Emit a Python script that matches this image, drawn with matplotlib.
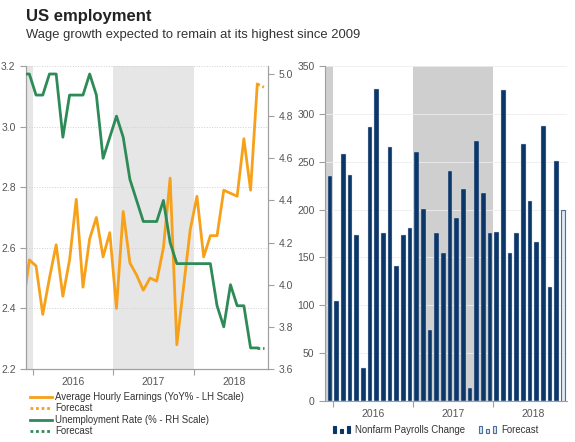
import matplotlib
matplotlib.use("Agg")

import numpy as np
import matplotlib.pyplot as plt
from matplotlib.lines import Line2D
from matplotlib.patches import Rectangle
from matplotlib.legend_handler import HandlerBase

plt.rcParams["font.family"] = ["Liberation Sans", "DejaVu Sans"]

# month index: 0 = Dec 2015, -1 = Nov 2015 (only partly visible)
line_months = np.arange(-1, 35)
bar_months = np.arange(0, 35)
forecast_month = 35

earnings = [2.40, 2.56, 2.54, 2.38, 2.50, 2.61, 2.44, 2.56, 2.76, 2.47, 2.63, 2.70, 2.57,
            2.65, 2.40, 2.72, 2.55, 2.51, 2.46, 2.50, 2.49, 2.60, 2.83, 2.28, 2.47,
            2.66, 2.77, 2.57, 2.64, 2.64, 2.79, 2.78, 2.77, 2.96, 2.79, 3.14]
earnings_fc = 3.13

unemployment = [5.0, 5.0, 4.9, 4.9, 5.0, 5.0, 4.7, 4.9, 4.9, 4.9, 5.0, 4.9, 4.6,
                4.7, 4.8, 4.7, 4.5, 4.4, 4.3, 4.3, 4.3, 4.4, 4.2, 4.1, 4.1,
                4.1, 4.1, 4.1, 4.1, 3.9, 3.8, 4.0, 3.9, 3.9, 3.7, 3.7]
unemployment_fc = 3.7

payrolls = [235, 104, 258, 236, 173, 34, 286, 326, 176, 265, 141, 173,
            181, 260, 201, 74, 176, 155, 240, 191, 222, 14, 272, 217,
            176, 177, 325, 155, 176, 269, 209, 166, 287, 119, 251]
payrolls_fc = 200

years = ["2016", "2017", "2018"]
year_centers = [6.5, 18.5, 30.5]
year_edges = [0.5, 12.5, 24.5]
shaded = [(-1, 0.5), (12.5, 24.5)]

ORANGE = "#f7a11a"
GREEN = "#2e8b57"
NAVY = "#0b3668"
AXC = "#a0a0a0"
TXT = "#555555"

fig = plt.figure(figsize=(5.75, 4.42), dpi=100)

fig.text(0.045, 0.953, "US employment", fontsize=12, fontweight="bold",
         color="#222222", va="baseline")
fig.text(0.045, 0.915, "Wage growth expected to remain at its highest since 2009",
         fontsize=9.4, color="#333333", va="baseline")


def style_x(ax):
    ax.set_xticks(year_edges)
    ax.set_xticklabels([])
    ax.set_xticks(year_centers, years, minor=True)
    ax.tick_params(axis="x", which="major", length=4, color=AXC)
    ax.tick_params(axis="x", which="minor", length=0, labelsize=7.5,
                   labelcolor=TXT, pad=6)
    ax.spines["top"].set_visible(False)
    for s in ax.spines.values():
        s.set_color(AXC)


# ---- left chart ----
ax1 = fig.add_axes([0.0452, 0.1652, 0.4209, 0.6855])
for a, b in shaded:
    ax1.axvspan(a, b, color="#e6e6e6", lw=0, zorder=0)
ax1.set_xlim(-0.5, 35.6)
ax1.set_ylim(2.2, 3.2)
ax1.set_yticks([2.2, 2.4, 2.6, 2.8, 3.0, 3.2])
ax1.yaxis.set_major_formatter(plt.FormatStrFormatter("%.1f"))
ax1.grid(axis="y", color="#d0d0d0", ls=":", lw=0.7)
ax1.tick_params(axis="y", length=4, color=AXC, labelsize=7.5, labelcolor=TXT)
style_x(ax1)
ax1.plot(line_months, earnings, color=ORANGE, lw=2, zorder=3)
ax1.plot([line_months[-1], forecast_month], [earnings[-1], earnings_fc],
         color=ORANGE, lw=2, ls=(0, (1, 1)), zorder=3)

ax2 = ax1.twinx()
ax2.set_ylim(3.6, 5.038)
ax2.set_yticks([3.6, 3.8, 4.0, 4.2, 4.4, 4.6, 4.8, 5.0])
ax2.yaxis.set_major_formatter(plt.FormatStrFormatter("%.1f"))
ax2.tick_params(axis="y", length=4, color=AXC, labelsize=7.5, labelcolor=TXT)
ax2.spines["top"].set_visible(False)
for s in ax2.spines.values():
    s.set_color(AXC)
ax2.plot(line_months, unemployment, color=GREEN, lw=2, zorder=3)
ax2.plot([line_months[-1], forecast_month], [unemployment[-1], unemployment_fc],
         color=GREEN, lw=2, ls=(0, (1, 1)), zorder=3)

left_handles = [
    Line2D([], [], color=ORANGE, lw=2),
    Line2D([], [], color=ORANGE, lw=2, ls=(0, (1, 1))),
    Line2D([], [], color=GREEN, lw=2),
    Line2D([], [], color=GREEN, lw=2, ls=(0, (1, 1))),
]
left_labels = ["Average Hourly Earnings (YoY% - LH Scale)", "Forecast",
               "Unemployment Rate (% - RH Scale)", "Forecast"]
fig.legend(left_handles, left_labels, loc="upper left",
           bbox_to_anchor=(0.052, 0.113), frameon=False, fontsize=6.9,
           handlelength=2.3, handletextpad=0.3, labelspacing=0.15,
           borderpad=0, borderaxespad=0, labelcolor="#333333")

# ---- right chart ----
ax3 = fig.add_axes([0.5652, 0.0928, 0.4209, 0.7579])
for a, b in shaded:
    ax3.axvspan(a, b, color="#cfcfcf", lw=0, zorder=0)
ax3.set_xlim(-0.75, 35.55)
ax3.set_ylim(0, 350)
ax3.set_yticks(range(0, 351, 50))
ax3.grid(axis="y", color="#eeeeee", lw=0.6)
ax3.set_axisbelow(True)
ax3.tick_params(axis="y", length=4, color=AXC, labelsize=7.5, labelcolor=TXT)
style_x(ax3)
ax3.spines["right"].set_visible(False)
ax3.bar(bar_months, payrolls, width=0.72, color=NAVY, edgecolor="#c8d4e2",
        lw=0.3, zorder=3)
ax3.bar([forecast_month], [payrolls_fc], width=0.6, color="#dfe8f3",
        edgecolor="#4a6f9c", lw=0.8, zorder=3)


class ThreeBars(HandlerBase):
    def __init__(self, face, edge):
        super().__init__()
        self.face = face
        self.edge = edge

    def create_artists(self, legend, orig_handle, xdescent, ydescent,
                       width, height, fontsize, trans):
        arts = []
        w = width / 5.0
        for i, h in enumerate([1.0, 0.65, 1.0]):
            r = Rectangle((-xdescent + i * 2 * w, -ydescent),
                          w, height * h, facecolor=self.face,
                          edgecolor=self.edge, lw=0.8, transform=trans)
            arts.append(r)
        return arts


h_nfp = Rectangle((0, 0), 1, 1)
h_fc = Rectangle((0, 0), 1, 1)
fig.legend([h_nfp, h_fc], ["Nonfarm Payrolls Change", "Forecast"],
           loc="upper left", bbox_to_anchor=(0.579, 0.038), frameon=False,
           fontsize=6.9, ncol=2, handlelength=1.8, handletextpad=0.5,
           columnspacing=1.45, borderpad=0, borderaxespad=0,
           labelcolor="#333333",
           handler_map={h_nfp: ThreeBars(NAVY, NAVY),
                        h_fc: ThreeBars("#dfe8f3", "#4a6f9c")})

fig.savefig("out.png", dpi=100)
